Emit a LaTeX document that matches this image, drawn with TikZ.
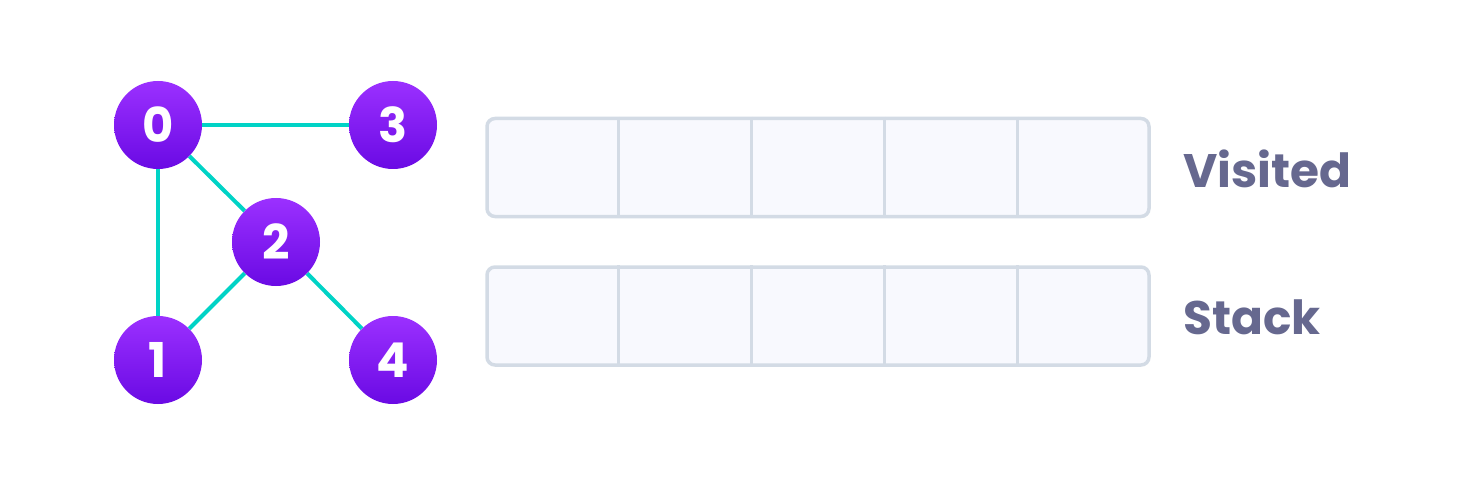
\documentclass[tikz,border=0pt]{standalone}
\usepackage{fontspec}
\setmainfont{Poppins}
\usetikzlibrary{calc}
\definecolor{edgecol}{RGB}{0,211,198}
\definecolor{topcol}{RGB}{155,48,255}
\definecolor{botcol}{RGB}{106,10,228}
\definecolor{cellline}{RGB}{211,219,229}
\definecolor{cellfill}{RGB}{248,249,254}
\definecolor{labelcol}{RGB}{102,104,143}
\begin{document}
\begin{tikzpicture}[x=1pt,y=-1pt,
  vertex/.style={circle,minimum size=88pt,inner sep=0pt,top color=topcol,bottom color=botcol,
    text=white,font=\fontsize{48}{48}\selectfont\bfseries},
  link/.style={draw=edgecol,line width=4pt},
  row/.style={draw=cellline,fill=cellfill,line width=3.5pt,rounded corners=8pt,
    minimum width=662pt,minimum height=98pt,inner sep=0pt},
  divider/.style={draw=cellline,line width=3.5pt},
  lbl/.style={text=labelcol,anchor=west,inner sep=0pt,font=\fontsize{47}{47}\selectfont\bfseries}]
\useasboundingbox (0,0) rectangle (1460,484);
\node[vertex] (n0) at (158,125) {0};
\node[vertex] (n3) at (393,125) {3};
\node[vertex] (n2) at (276,242) {2};
\node[vertex] (n1) at (158,360) {1};
\node[vertex] (n4) at (393,360) {4};
\draw[link] (n0) -- (n3);
\draw[link] (n0) -- (n1);
\draw[link] (n0) -- (n2);
\draw[link] (n2) -- (n1);
\draw[link] (n2) -- (n4);
\node[row] (visited) at (818,167.5) {};
\node[row] (stack) at (818,316) {};
\foreach \i in {1,2,3,4}{
  \draw[divider] ($(visited.north west)!\i/5!(visited.north east)$) -- ($(visited.south west)!\i/5!(visited.south east)$);
  \draw[divider] ($(stack.north west)!\i/5!(stack.north east)$) -- ($(stack.south west)!\i/5!(stack.south east)$);
}
\node[lbl] (vlabel) at (1183,169) {Visited};
\node[lbl] (slabel) at (1183,317) {Stack};
\end{tikzpicture}
\end{document}
